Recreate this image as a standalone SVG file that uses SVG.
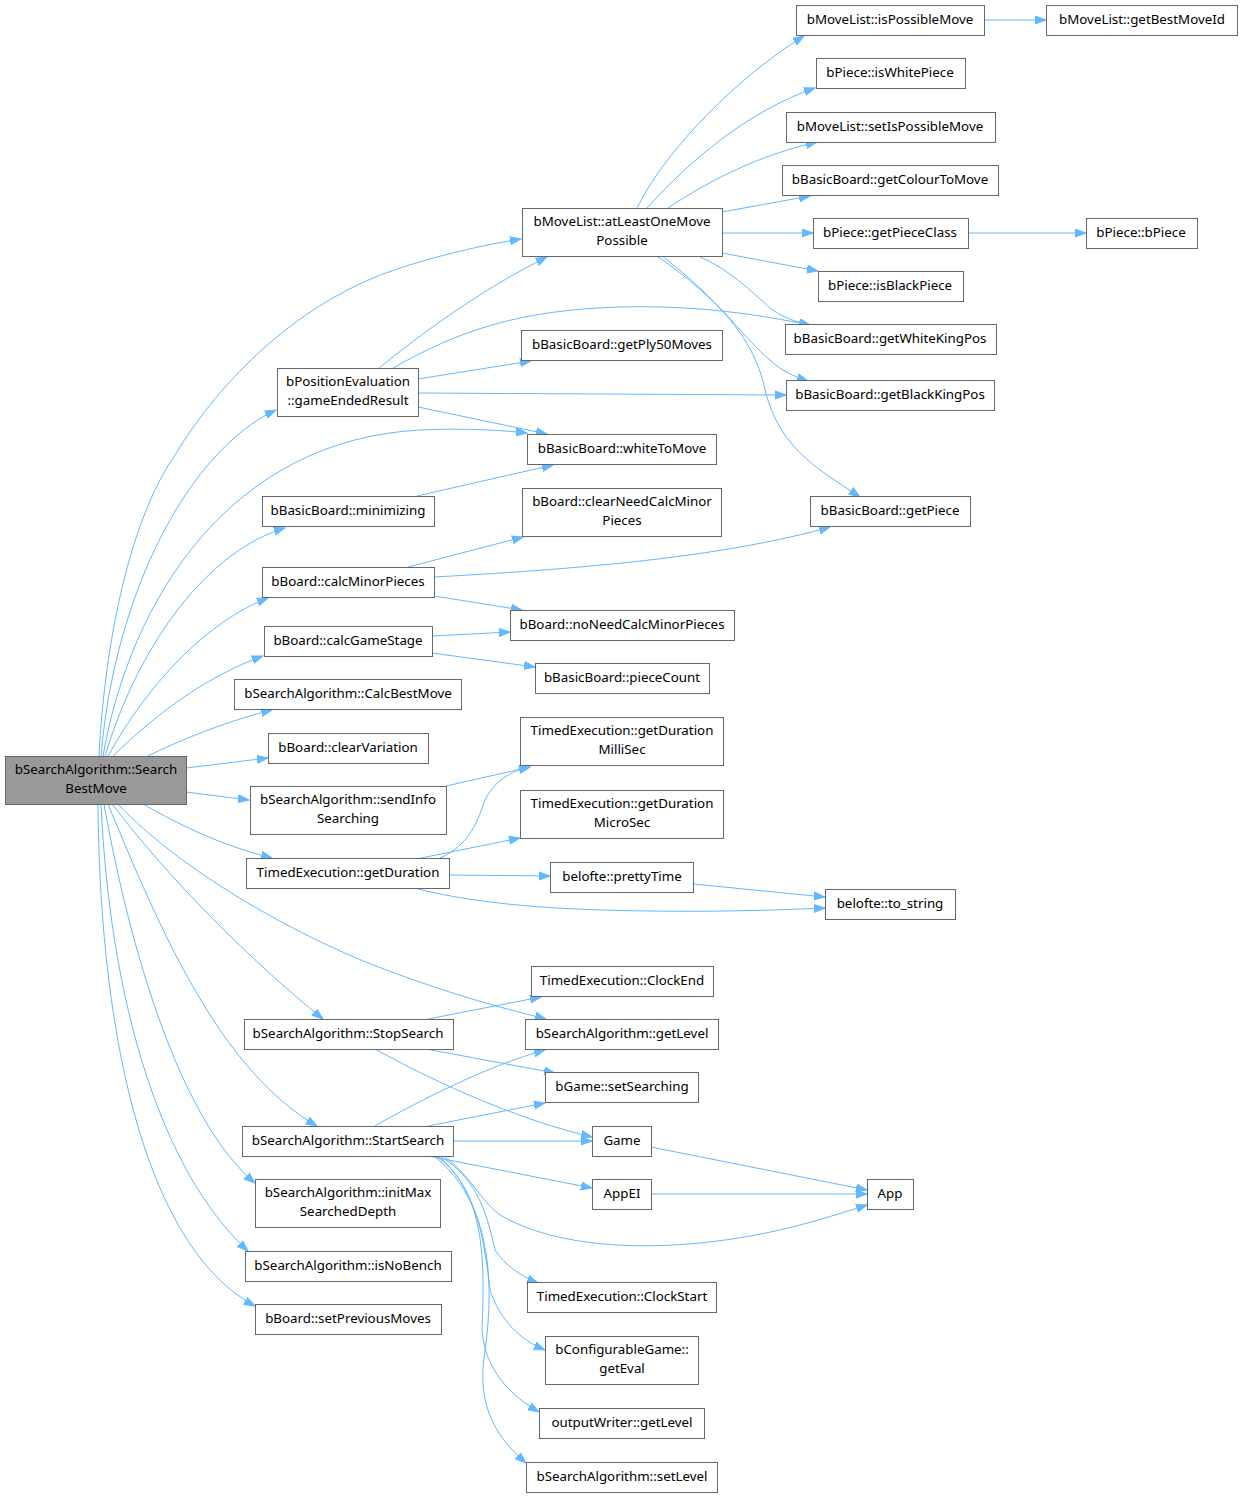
<svg xmlns="http://www.w3.org/2000/svg" width="1242" height="1498" viewBox="0 0 1242 1498">
<style>
.node rect{fill:#ffffff;stroke:#666666;stroke-width:1}
.node.main rect{fill:#999999}
.node text{font-family:"Noto Sans","Open Sans","DejaVu Sans",sans-serif;font-size:13.33px;fill:#000000;text-anchor:middle}
.edges path{fill:none;stroke:#63b8ff;stroke-width:1;marker-end:url(#arr)}
</style>
<defs>
<marker id="arr" markerWidth="13" markerHeight="10" refX="11" refY="4.5" orient="auto" markerUnits="userSpaceOnUse">
<path d="M0,0.5 L11,4.5 L0,8.5 z" fill="#63b8ff" stroke="#63b8ff" stroke-width="1"/>
</marker>
</defs>
<rect width="1242" height="1498" fill="#ffffff"/>
<g id="edges" class="edges">
<!-- from main -->
<path d="M99,756 C105,640 130,520 175,455 C220,380 300,300 400,268 C450,252 490,244 521,239"/>
<path d="M101,756 C115,590 190,450 276,410"/>
<path d="M103,756 C130,600 230,440 420,430 C460,428 500,430 527,433"/>
<path d="M105,756 C140,640 210,550 285,528"/>
<path d="M108,756 C150,680 210,620 268,598"/>
<path d="M113,756 C160,710 210,675 263,656"/>
<path d="M148,756 C180,740 230,720 272,710"/>
<path d="M186,768 L268,758"/>
<path d="M186,792 L249,800"/>
<path d="M143,804 C180,825 220,845 272,858"/>
<path d="M118,804 C180,870 300,940 400,975 C460,997 510,1010 546,1019"/>
<path d="M112,804 C170,880 250,960 323,1019"/>
<path d="M108,804 C160,930 220,1070 317,1126"/>
<path d="M104,804 C130,950 180,1120 255,1183"/>
<path d="M101,804 C110,1000 160,1170 248,1251"/>
<path d="M98,804 C100,1050 150,1250 255,1306"/>
<!-- atLeastOneMovePossible -->
<path d="M637,208 C665,150 740,75 804,36"/>
<path d="M647,208 C690,160 750,110 815,88"/>
<path d="M668,208 C710,180 760,155 817,142"/>
<path d="M722,212 L810,196"/>
<path d="M722,233 L813,233"/>
<path d="M722,253 L818,271"/>
<path d="M698,256 C730,270 750,290 770,308 C780,316 795,322 810,325"/>
<path d="M662,256 C720,300 745,340 770,360 C780,370 795,377 808,381"/>
<path d="M657,256 C720,300 755,340 765,390 C780,450 820,470 860,497"/>
<!-- gameEndedResult -->
<path d="M379,368 C420,335 480,290 547,257"/>
<path d="M393,368 C460,330 520,310 620,307 C700,305 760,315 810,325"/>
<path d="M418,379 L531,361"/>
<path d="M418,393 L786,395"/>
<path d="M418,407 L547,434"/>
<!-- minimizing -->
<path d="M417,496 L553,465"/>
<!-- calcMinorPieces -->
<path d="M408,567 L523,537"/>
<path d="M434,577 C600,568 730,555 830,527"/>
<path d="M434,596 L522,610"/>
<!-- calcGameStage -->
<path d="M432,636 L510,632"/>
<path d="M432,653 L535,667"/>
<!-- sendInfoSearching -->
<path d="M446,786 L530,767"/>
<!-- getDuration -->
<path d="M440,858 C470,845 478,820 485,800 C495,780 510,772 530,766"/>
<path d="M421,858 L520,838"/>
<path d="M449,875 L550,876"/>
<path d="M414,888 C480,905 560,910 650,911 C720,912 780,910 825,908"/>
<!-- prettyTime -->
<path d="M693,884 L825,897"/>
<!-- StopSearch -->
<path d="M428,1019 L541,997"/>
<path d="M426,1049 L555,1073"/>
<path d="M375,1049 C440,1085 520,1120 592,1137"/>
<!-- StartSearch -->
<path d="M375,1126 C420,1100 490,1065 545,1050"/>
<path d="M428,1126 L545,1103"/>
<path d="M453,1141 L592,1141"/>
<path d="M428,1156 L592,1188"/>
<path d="M444,1156 C470,1175 480,1200 500,1215 C560,1250 650,1248 700,1243 C770,1236 820,1220 867,1205"/>
<path d="M440,1156 C480,1180 488,1220 495,1250 C505,1265 520,1276 538,1283"/>
<path d="M438,1156 C480,1190 485,1250 490,1290 C500,1320 520,1340 545,1350"/>
<path d="M436,1156 C485,1190 485,1260 482,1330 C485,1370 510,1395 539,1412"/>
<path d="M434,1156 C490,1200 495,1280 485,1350 C475,1410 500,1440 526,1463"/>
<!-- Game / AppEI -->
<path d="M651,1147 L867,1190"/>
<path d="M651,1194 L867,1194"/>
<!-- other -->
<path d="M984,20 L1046,20"/>
<path d="M968,233 L1086,233"/>
</g>
<g id="n0" class="node main"><rect x="5.5" y="756.5" width="181" height="48"/><text x="96" y="773.5">bSearchAlgorithm::Search</text><text x="96" y="792.5">BestMove</text></g>
<g id="n1" class="node"><rect x="522.5" y="208.5" width="200" height="48"/><text x="622" y="225.5">bMoveList::atLeastOneMove</text><text x="622" y="244.5">Possible</text></g>
<g id="n2" class="node"><rect x="796.5" y="5.5" width="188" height="30"/><text x="890" y="23.5">bMoveList::isPossibleMove</text></g>
<g id="n3" class="node"><rect x="1046.5" y="5.5" width="191" height="30"/><text x="1142" y="23.5">bMoveList::getBestMoveId</text></g>
<g id="n4" class="node"><rect x="816.5" y="58.5" width="149" height="30"/><text x="890" y="76.5">bPiece::isWhitePiece</text></g>
<g id="n5" class="node"><rect x="786.5" y="112.5" width="209" height="30"/><text x="890" y="130.5">bMoveList::setIsPossibleMove</text></g>
<g id="n6" class="node"><rect x="782.5" y="165.5" width="216" height="30"/><text x="890" y="183.5">bBasicBoard::getColourToMove</text></g>
<g id="n7" class="node"><rect x="813.5" y="218.5" width="155" height="30"/><text x="890" y="236.5">bPiece::getPieceClass</text></g>
<g id="n8" class="node"><rect x="1086.5" y="218.5" width="111" height="30"/><text x="1141" y="236.5">bPiece::bPiece</text></g>
<g id="n9" class="node"><rect x="818.5" y="271.5" width="145" height="30"/><text x="890" y="289.5">bPiece::isBlackPiece</text></g>
<g id="n10" class="node"><rect x="785.5" y="324.5" width="211" height="30"/><text x="890" y="342.5">bBasicBoard::getWhiteKingPos</text></g>
<g id="n11" class="node"><rect x="521.5" y="330.5" width="201" height="30"/><text x="622" y="348.5">bBasicBoard::getPly50Moves</text></g>
<g id="n12" class="node"><rect x="277.5" y="368.5" width="141" height="48"/><text x="348" y="385.5">bPositionEvaluation</text><text x="348" y="404.5">::gameEndedResult</text></g>
<g id="n13" class="node"><rect x="786.5" y="380.5" width="208" height="30"/><text x="890" y="398.5">bBasicBoard::getBlackKingPos</text></g>
<g id="n14" class="node"><rect x="527.5" y="434.5" width="189" height="30"/><text x="622" y="452.5">bBasicBoard::whiteToMove</text></g>
<g id="n15" class="node"><rect x="262.5" y="496.5" width="172" height="30"/><text x="348" y="514.5">bBasicBoard::minimizing</text></g>
<g id="n16" class="node"><rect x="522.5" y="488.5" width="199" height="48"/><text x="622" y="505.5">bBoard::clearNeedCalcMinor</text><text x="622" y="524.5">Pieces</text></g>
<g id="n17" class="node"><rect x="810.5" y="496.5" width="160" height="30"/><text x="890" y="514.5">bBasicBoard::getPiece</text></g>
<g id="n18" class="node"><rect x="262.5" y="567.5" width="172" height="30"/><text x="348" y="585.5">bBoard::calcMinorPieces</text></g>
<g id="n19" class="node"><rect x="510.5" y="610.5" width="224" height="30"/><text x="622" y="628.5">bBoard::noNeedCalcMinorPieces</text></g>
<g id="n20" class="node"><rect x="264.5" y="626.5" width="168" height="30"/><text x="348" y="644.5">bBoard::calcGameStage</text></g>
<g id="n21" class="node"><rect x="535.5" y="663.5" width="174" height="30"/><text x="622" y="681.5">bBasicBoard::pieceCount</text></g>
<g id="n22" class="node"><rect x="234.5" y="679.5" width="227" height="30"/><text x="348" y="697.5">bSearchAlgorithm::CalcBestMove</text></g>
<g id="n23" class="node"><rect x="268.5" y="733.5" width="160" height="30"/><text x="348" y="751.5">bBoard::clearVariation</text></g>
<g id="n24" class="node"><rect x="520.5" y="717.5" width="203" height="48"/><text x="622" y="734.5">TimedExecution::getDuration</text><text x="622" y="753.5">MilliSec</text></g>
<g id="n25" class="node"><rect x="250.5" y="786.5" width="196" height="48"/><text x="348" y="803.5">bSearchAlgorithm::sendInfo</text><text x="348" y="822.5">Searching</text></g>
<g id="n26" class="node"><rect x="520.5" y="790.5" width="203" height="48"/><text x="622" y="807.5">TimedExecution::getDuration</text><text x="622" y="826.5">MicroSec</text></g>
<g id="n27" class="node"><rect x="246.5" y="858.5" width="203" height="30"/><text x="348" y="876.5">TimedExecution::getDuration</text></g>
<g id="n28" class="node"><rect x="550.5" y="862.5" width="143" height="30"/><text x="622" y="880.5">belofte::prettyTime</text></g>
<g id="n29" class="node"><rect x="825.5" y="889.5" width="130" height="30"/><text x="890" y="907.5">belofte::to_string</text></g>
<g id="n30" class="node"><rect x="531.5" y="966.5" width="182" height="30"/><text x="622" y="984.5">TimedExecution::ClockEnd</text></g>
<g id="n31" class="node"><rect x="244.5" y="1019.5" width="209" height="30"/><text x="348" y="1037.5">bSearchAlgorithm::StopSearch</text></g>
<g id="n32" class="node"><rect x="525.5" y="1019.5" width="193" height="30"/><text x="622" y="1037.5">bSearchAlgorithm::getLevel</text></g>
<g id="n33" class="node"><rect x="545.5" y="1072.5" width="153" height="30"/><text x="622" y="1090.5">bGame::setSearching</text></g>
<g id="n34" class="node"><rect x="242.5" y="1126.5" width="211" height="30"/><text x="348" y="1144.5">bSearchAlgorithm::StartSearch</text></g>
<g id="n35" class="node"><rect x="592.5" y="1126.5" width="59" height="30"/><text x="622" y="1144.5">Game</text></g>
<g id="n36" class="node"><rect x="592.5" y="1179.5" width="59" height="30"/><text x="622" y="1197.5">AppEI</text></g>
<g id="n37" class="node"><rect x="867.5" y="1179.5" width="46" height="30"/><text x="890" y="1197.5">App</text></g>
<g id="n38" class="node"><rect x="255.5" y="1179.5" width="185" height="48"/><text x="348" y="1196.5">bSearchAlgorithm::initMax</text><text x="348" y="1215.5">SearchedDepth</text></g>
<g id="n39" class="node"><rect x="245.5" y="1251.5" width="206" height="30"/><text x="348" y="1269.5">bSearchAlgorithm::isNoBench</text></g>
<g id="n40" class="node"><rect x="255.5" y="1304.5" width="186" height="30"/><text x="348" y="1322.5">bBoard::setPreviousMoves</text></g>
<g id="n41" class="node"><rect x="527.5" y="1282.5" width="189" height="30"/><text x="622" y="1300.5">TimedExecution::ClockStart</text></g>
<g id="n42" class="node"><rect x="545.5" y="1336.5" width="153" height="48"/><text x="622" y="1353.5">bConfigurableGame::</text><text x="622" y="1372.5">getEval</text></g>
<g id="n43" class="node"><rect x="539.5" y="1408.5" width="165" height="30"/><text x="622" y="1426.5">outputWriter::getLevel</text></g>
<g id="n44" class="node"><rect x="526.5" y="1462.5" width="191" height="30"/><text x="622" y="1480.5">bSearchAlgorithm::setLevel</text></g>
</svg>
